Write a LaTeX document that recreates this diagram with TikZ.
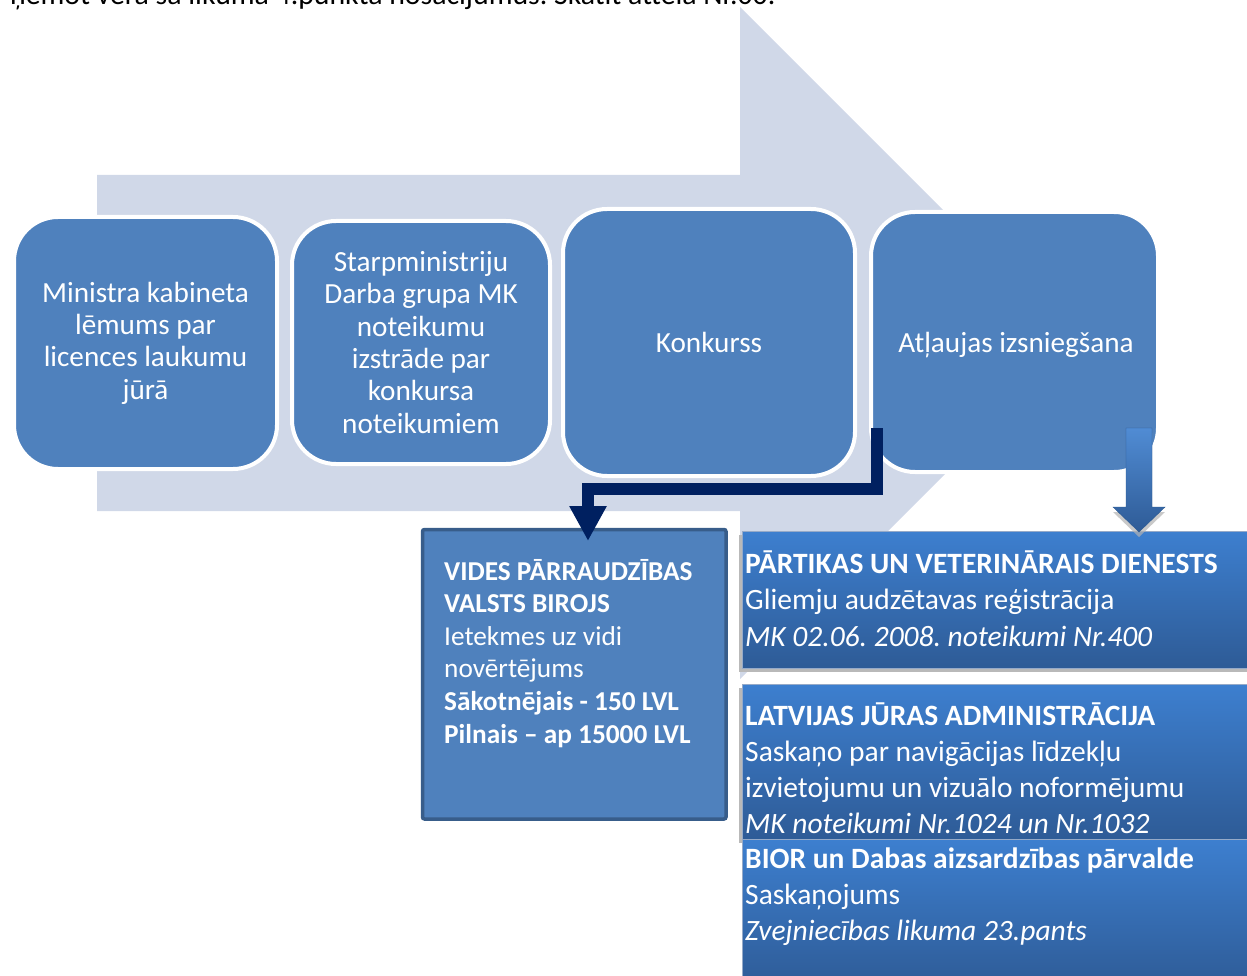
\documentclass[tikz,border=0pt]{standalone}
\usepackage{fontspec}
\setmainfont{Carlito}
\usetikzlibrary{arrows.meta,calc}
\frenchspacing

\definecolor{arrowbg}{RGB}{208,216,232}
\definecolor{stepblue}{RGB}{79,129,189}
\definecolor{stepedge}{RGB}{56,93,138}
\definecolor{navyline}{RGB}{0,32,96}
\definecolor{boxtop}{RGB}{61,127,207}
\definecolor{boxbot}{RGB}{46,91,150}
\definecolor{boxrim}{RGB}{150,170,200}

\tikzset{
  stepbox/.style={draw=white, line width=4pt, fill=stepblue, rounded corners=44pt,
    text=white, align=center, inner sep=0pt, font=\fontsize{29.2}{32.3}\selectfont},
  agencybox/.style={anchor=north west, inner sep=0pt, draw=boxrim, line width=0.8pt,
    top color=boxtop, bottom color=boxbot},
  boxshadow/.style={fill=gray!55, draw=none},
  % multi-line texts are placed by the baseline of their last line
  agencytext/.style={anchor=base west, inner sep=0pt, text=white, align=left,
    font=\fontsize{29.5}{36.3}\selectfont},
  officebox/.style={anchor=north west, draw=stepedge, line width=3.5pt, fill=stepblue,
    rounded corners=2pt, inner sep=0pt},
  officetext/.style={anchor=base west, inner sep=0pt, text=white, align=left,
    font=\fontsize{27.3}{32.6}\selectfont},
  elbowarrow/.style={draw=navyline, line width=11.5pt, line join=miter,
    -{Triangle[width=35pt,length=35pt]}},
}

\begin{document}
\begin{tikzpicture}[x=1pt, y=-1pt]
  \useasboundingbox (0,0) rectangle (1247,976);
  \clip (0,0) rectangle (1247,976);

  % broad process arrow behind the steps
  \fill[arrowbg] (97,175) -- (740,175) -- (740,7) -- (1076,343)
    -- (740,679) -- (740,511) -- (97,511) -- cycle;

  % preceding line of body text
  \node[anchor=base west, inner sep=0pt, font=\fontsize{29.8}{34}\selectfont] (intro)
    at (10,5) {ņemot vērā šā likuma 4.punkta nosacījumus. Skatīt attēlā Nr.00.};

  % process steps
  \node[stepbox, minimum width=263pt, minimum height=252pt] (kabinets) at (145.5,343)
    {Ministra kabineta\\lēmums par\\licences laukumu\\jūrā};
  \node[stepbox, minimum width=258pt, minimum height=243pt] (darbagrupa) at (421,342.5)
    {Starpministriju\\Darba grupa MK\\noteikumu\\izstrāde par\\konkursa\\noteikumiem};
  \node[stepbox, minimum width=292pt, minimum height=267pt] (konkurss) at (709,342.5)
    {Konkurss};
  \node[stepbox, minimum width=287pt, minimum height=260pt] (atlauja) at (1014.5,342)
    {};
  \node[anchor=base, inner sep=0pt, text=white, font=\fontsize{29.2}{32.3}\selectfont]
    (atlaujatxt) at (1016,352) {Atļaujas izsniegšana};

  % environmental office
  \node[officebox, minimum width=303.5pt, minimum height=289.5pt] (vides) at (420.75,527.75) {};
  \node[officetext] (videstxt) at (444,743)
    {\textbf{VIDES PĀRRAUDZĪBAS}\\\textbf{VALSTS BIROJS}\\Ietekmes uz vidi\\novērtējums\\
     \textbf{Sākotnējais - 150 LVL}\\\textbf{Pilnais – ap 15000 LVL}};

  % agencies on the right
  \fill[boxshadow] (739,535) rectangle (1260,672);
  \node[agencybox, minimum width=520pt, minimum height=137pt] (pvd) at (742,531) {};
  \fill[boxshadow] (739,688) rectangle (1260,843);
  \node[agencybox, minimum width=520pt, minimum height=156pt] (lja) at (742,684) {};
  \node[agencybox, minimum width=520pt, minimum height=150pt] (bior) at (742,839) {};

  \node[agencytext, font=\fontsize{29.5}{36.7}\selectfont] (pvdtxt) at (745,646.5)
    {\textbf{PĀRTIKAS UN VETERINĀRAIS DIENESTS}\\Gliemju audzētavas reģistrācija\\
     \textit{MK 02.06. 2008. noteikumi Nr.400}};
  \node[agencytext, font=\fontsize{29.5}{36}\selectfont] (ljatxt) at (745,833)
    {\textbf{LATVIJAS JŪRAS ADMINISTRĀCIJA}\\Saskaņo par navigācijas līdzekļu\\
     izvietojumu un vizuālo noformējumu\\\textit{MK noteikumi Nr.1024 un Nr.1032}};
  \node[agencytext, font=\fontsize{29.5}{36}\selectfont] (biortxt) at (745,940)
    {\textbf{BIOR un Dabas aizsardzības pārvalde}\\Saskaņojums\\
     \textit{Zvejniecības likuma 23.pants}};

  % elbow connector from the permit step to the environmental office
  \coordinate (elbowstart) at (877,428);
  \coordinate (elbowbend) at (588,489);
  \coordinate (elbowend) at (588,541);
  \draw[elbowarrow] (elbowstart) |- (elbowbend) -- (elbowend);

  % block arrow from the permit step to the food and veterinary service
  \fill[gray!60, opacity=0.7] (1126,433) -- (1152,433) -- (1152,512) -- (1165,512)
    -- (1139,537) -- (1113,512) -- (1126,512) -- cycle;
  \shade[top color=boxtop!90!white, bottom color=boxbot, draw=boxtop!70!black, line width=0.4pt]
    (1126,428) -- (1152,428) -- (1152,507) -- (1165,507)
    -- (1139,532) -- (1113,507) -- (1126,507) -- cycle;
\end{tikzpicture}
\end{document}
